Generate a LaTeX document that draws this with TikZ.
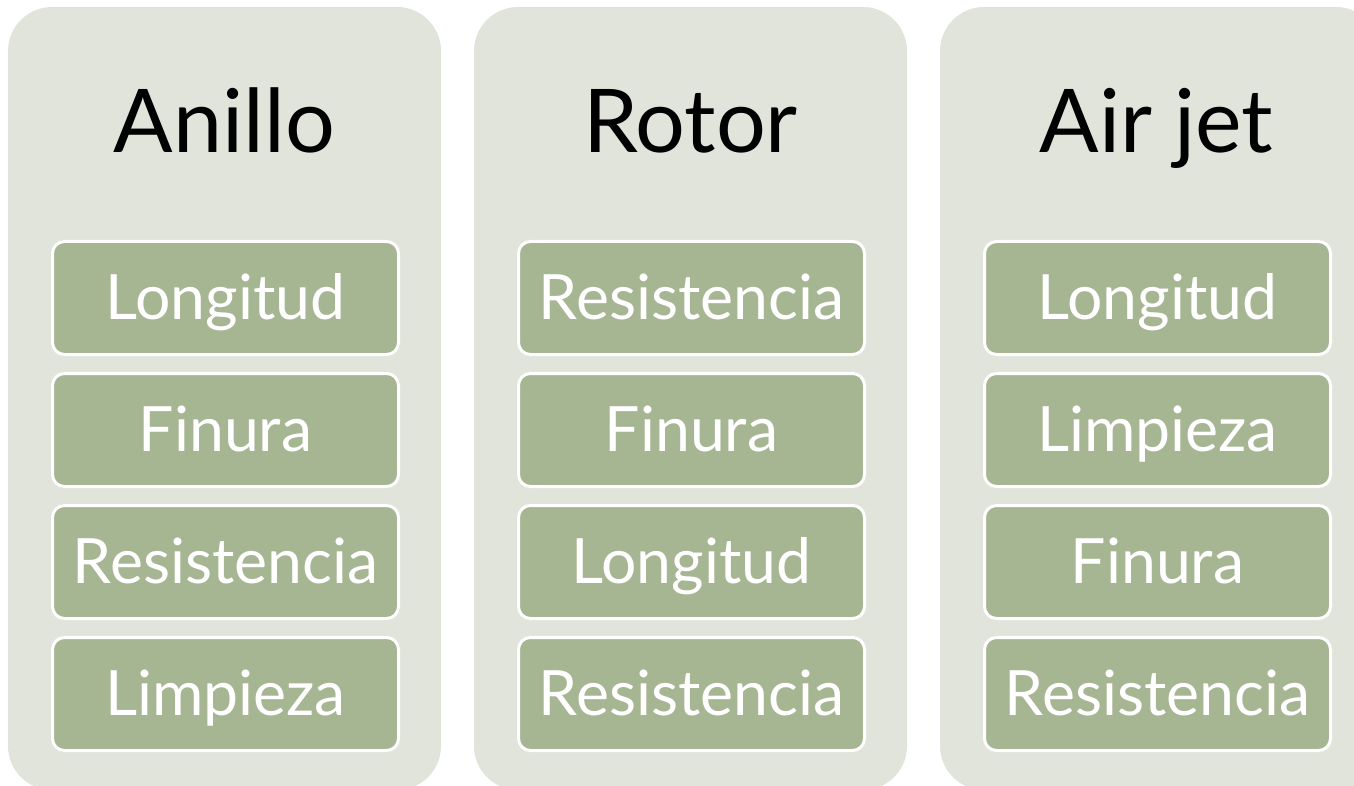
\documentclass[tikz,border=0pt]{standalone}
\usepackage{fontspec}
\setmainfont{Lato}
\definecolor{panelfill}{HTML}{E1E4DB}
\definecolor{boxfill}{HTML}{A6B693}
\begin{document}
\begin{tikzpicture}[x=1pt,y=-1pt,
  panel/.style={fill=panelfill, rounded corners=44pt},
  itembox/.style={fill=boxfill, draw=white, line width=3pt, rounded corners=12pt,
    minimum width=346pt, minimum height=113pt, inner sep=0pt,
    text height=46pt, text depth=4pt,
    text=white, font=\fontsize{62.5}{64}\selectfont},
  title/.style={text=black, font=\fontsize{88}{90}\selectfont, inner sep=0pt, anchor=base}]
\useasboundingbox (0,0) rectangle (1354,786);
\begin{scope}
\clip (0,0) rectangle (1354,786);
\fill[panel] (8,7) rectangle (441,790);
\fill[panel] (474,7) rectangle (907,790);
\fill[panel] (940,7) rectangle (1380,790);
\end{scope}
\node[title] (t1) at (224.5,153) {Anillo};
\node[title] (t2) at (690.5,153) {Rotor};
\node[title] (t3) at (1156.5,153) {Air jet};
\node[itembox] (a1) at (225.5,298) {Longitud};
\node[itembox] (a2) at (225.5,430) {Finura};
\node[itembox] (a3) at (225.5,562) {Resistencia};
\node[itembox] (a4) at (225.5,694) {Limpieza};
\node[itembox] (b1) at (691.5,298) {Resistencia};
\node[itembox] (b2) at (691.5,430) {Finura};
\node[itembox] (b3) at (691.5,562) {Longitud};
\node[itembox] (b4) at (691.5,694) {Resistencia};
\node[itembox] (c1) at (1157.5,298) {Longitud};
\node[itembox] (c2) at (1157.5,430) {Limpieza};
\node[itembox] (c3) at (1157.5,562) {Finura};
\node[itembox] (c4) at (1157.5,694) {Resistencia};
\end{tikzpicture}
\end{document}
